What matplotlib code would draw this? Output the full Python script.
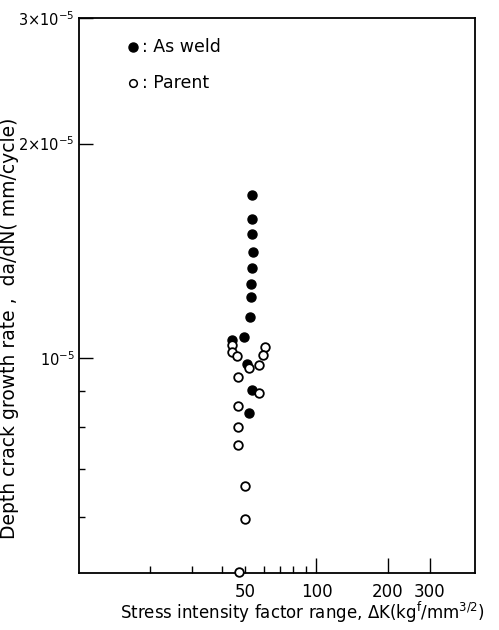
import numpy as np
import matplotlib
matplotlib.use("Agg")
import matplotlib.pyplot as plt

# stress intensity factor range (kgf/mm^3/2) and crack growth rate (mm/cycle)
weld_dk = [53.7, 53.3, 53.7, 54.0, 53.5, 52.8, 52.8, 52.3, 49.5, 44.2, 50.8, 53.7, 52.0]
weld_rate = [1.696e-5, 1.568e-5, 1.492e-5, 1.408e-5, 1.338e-5, 1.270e-5, 1.217e-5,
             1.143e-5, 1.070e-5, 1.062e-5, 9.81e-6, 9.04e-6, 8.39e-6]

parent_dk = [44.2, 43.9, 46.3, 60.6, 59.3, 57.4, 52.0, 46.8, 57.3, 46.9, 46.8, 46.9,
             50.2, 50.1, 47.2]
parent_rate = [1.043e-5, 1.022e-5, 1.007e-5, 1.038e-5, 1.009e-5, 9.77e-6, 9.69e-6,
               9.41e-6, 8.95e-6, 8.58e-6, 8.01e-6, 7.55e-6, 6.62e-6, 5.95e-6, 5.02e-6]

x_major = [100, 200, 300]
x_minor = [20, 30, 40, 50, 60, 70, 80, 90]
x_minor_labels = ["", "", "", "50", "", "", "", ""]
y_major = [1e-5, 2e-5, 3e-5]
y_major_labels = [r"10$^{-5}$", r"2$\times$10$^{-5}$", r"3$\times$10$^{-5}$"]
y_minor = [6e-6, 7e-6, 8e-6, 9e-6]

plt.rcParams["font.family"] = ["DejaVu Sans"]
plt.rcParams["mathtext.default"] = "regular"

fig = plt.figure(figsize=(4.99, 6.30), dpi=100)
ax = fig.add_axes([0.1583, 0.0905, 0.7936, 0.881])

ax.plot(weld_dk, weld_rate, "o", color="black", markersize=6.5, clip_on=False, zorder=3)
ax.plot(parent_dk, parent_rate, "o", markerfacecolor="white", markeredgecolor="black",
        markeredgewidth=1.3, markersize=6.2, clip_on=False, zorder=3)

ax.set_xscale("log")
ax.set_yscale("log")
ax.set_xlim(10, 465)
ax.set_ylim(5e-6, 3e-5)

ax.set_xticks(x_major, labels=["100", "200", "300"])
ax.set_xticks(x_minor, labels=x_minor_labels, minor=True)
ax.set_yticks(y_major, labels=y_major_labels)
ax.set_yticks(y_minor, labels=[""] * len(y_minor), minor=True)

ax.tick_params(axis="x", which="major", direction="in", length=11, width=1.0,
               pad=7, labelsize=12)
ax.tick_params(axis="x", which="minor", direction="in", length=5, width=1.0,
               pad=7, labelsize=12)
ax.tick_params(axis="y", which="major", direction="in", length=10, width=1.0,
               pad=3, labelsize=10.5)
ax.tick_params(axis="y", which="minor", direction="in", length=4, width=1.0)

for s in ax.spines.values():
    s.set_linewidth(1.3)

# legend drawn by hand
ax.plot([0.136], [0.948], "o", color="black", markersize=6.5, transform=ax.transAxes,
        clip_on=False)
ax.text(0.160, 0.948, ": As weld", transform=ax.transAxes, fontsize=12.5,
        va="center", ha="left")
ax.plot([0.136], [0.883], "o", markerfacecolor="white", markeredgecolor="black",
        markeredgewidth=1.1, markersize=5.5, transform=ax.transAxes, clip_on=False)
ax.text(0.160, 0.883, ": Parent", transform=ax.transAxes, fontsize=12.5,
        va="center", ha="left")

fig.text(0.02, 1 - 328 / 630, "Depth crack growth rate ,  da/dN( mm/cycle)",
         rotation=90, ha="center", va="center", fontsize=13.5)
fig.text(302 / 499, 1 - 612 / 630,
         r"Stress intensity factor range, $\Delta$K(kg$^{f}$/mm$^{3/2}$)",
         ha="center", va="center", fontsize=12)

fig.savefig("out.png", dpi=100)
